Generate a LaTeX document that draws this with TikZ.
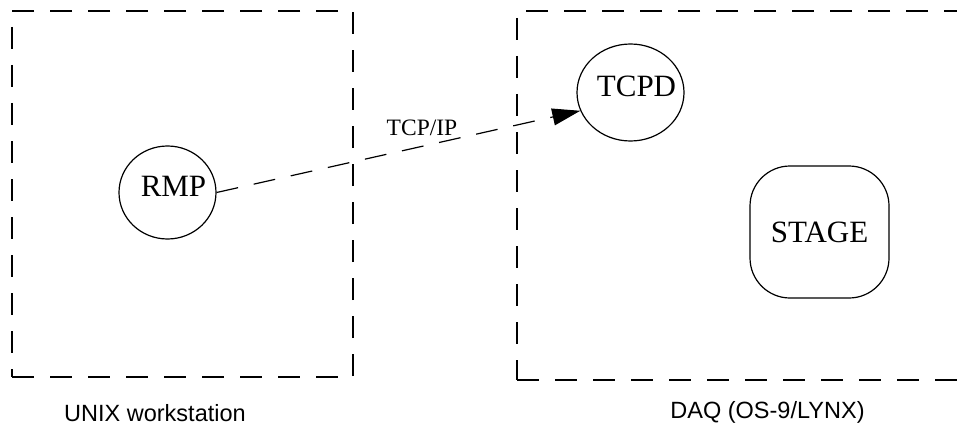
\documentclass[tikz,border=0pt]{standalone}
\usepackage{fontspec}
\setmainfont{Liberation Serif}
\newfontfamily\boxfont{Liberation Sans}
\usepackage{tikz}
\usetikzlibrary{shapes.geometric,arrows.meta}
\newcommand{\proctext}[1]{\makebox[0pt]{\kern12pt #1}}

\begin{document}
\begin{tikzpicture}[x = 1pt, y = -1pt,
        hostbox/.style = {draw = black, line width = 1.2pt, dash pattern = on 22pt off 16pt},
        proc/.style = {draw = black, line width = 1.2pt, inner sep = 0pt,
            font = \fontsize{31}{31}\selectfont},
        caption/.style = {anchor = base, inner sep = 0pt,
            font = \boxfont\fontsize{23.5}{23.5}\selectfont}]
        \useasboundingbox (0,0) rectangle (957,425);
        \clip (0,0) rectangle (957,425);
        \node (unix_box)[hostbox, rectangle, minimum width = 341pt, minimum height = 366pt]
            at (182.5,194) {};
        \node (daq_box)[hostbox, rectangle, minimum width = 458pt, minimum height = 369pt]
            at (746,195.5) {};
        \node (unix_name)[caption] at (155,421) {UNIX workstation};
        \node (daq_name)[caption] at (767.5,418) {DAQ (OS-9/LYNX)};
        \node (rmp)[proc, ellipse, minimum width = 97pt, minimum height = 93pt, text depth = 12pt]
            at (167.5,192.5) {\proctext{RMP}};
        \node (tcpd)[proc, ellipse, minimum width = 107pt, minimum height = 97pt, text depth = 12pt]
            at (630.5,92.5) {\proctext{TCPD}};
        \node (stage)[proc, rectangle, rounded corners = 40pt, minimum width = 139pt,
            minimum height = 132pt] at (819.5,232) {STAGE};
        \node (tcpip)[font = \fontsize{23.5}{23.5}\selectfont, inner sep = 0pt] at (422,128) {TCP/IP};
        \path(rmp.east) edge[line width = 1.2pt, dash pattern = on 22pt off 16pt,
            -{Triangle[length = 28pt, width = 17pt]}] (tcpd.200);
    \end{tikzpicture}
\end{document}
